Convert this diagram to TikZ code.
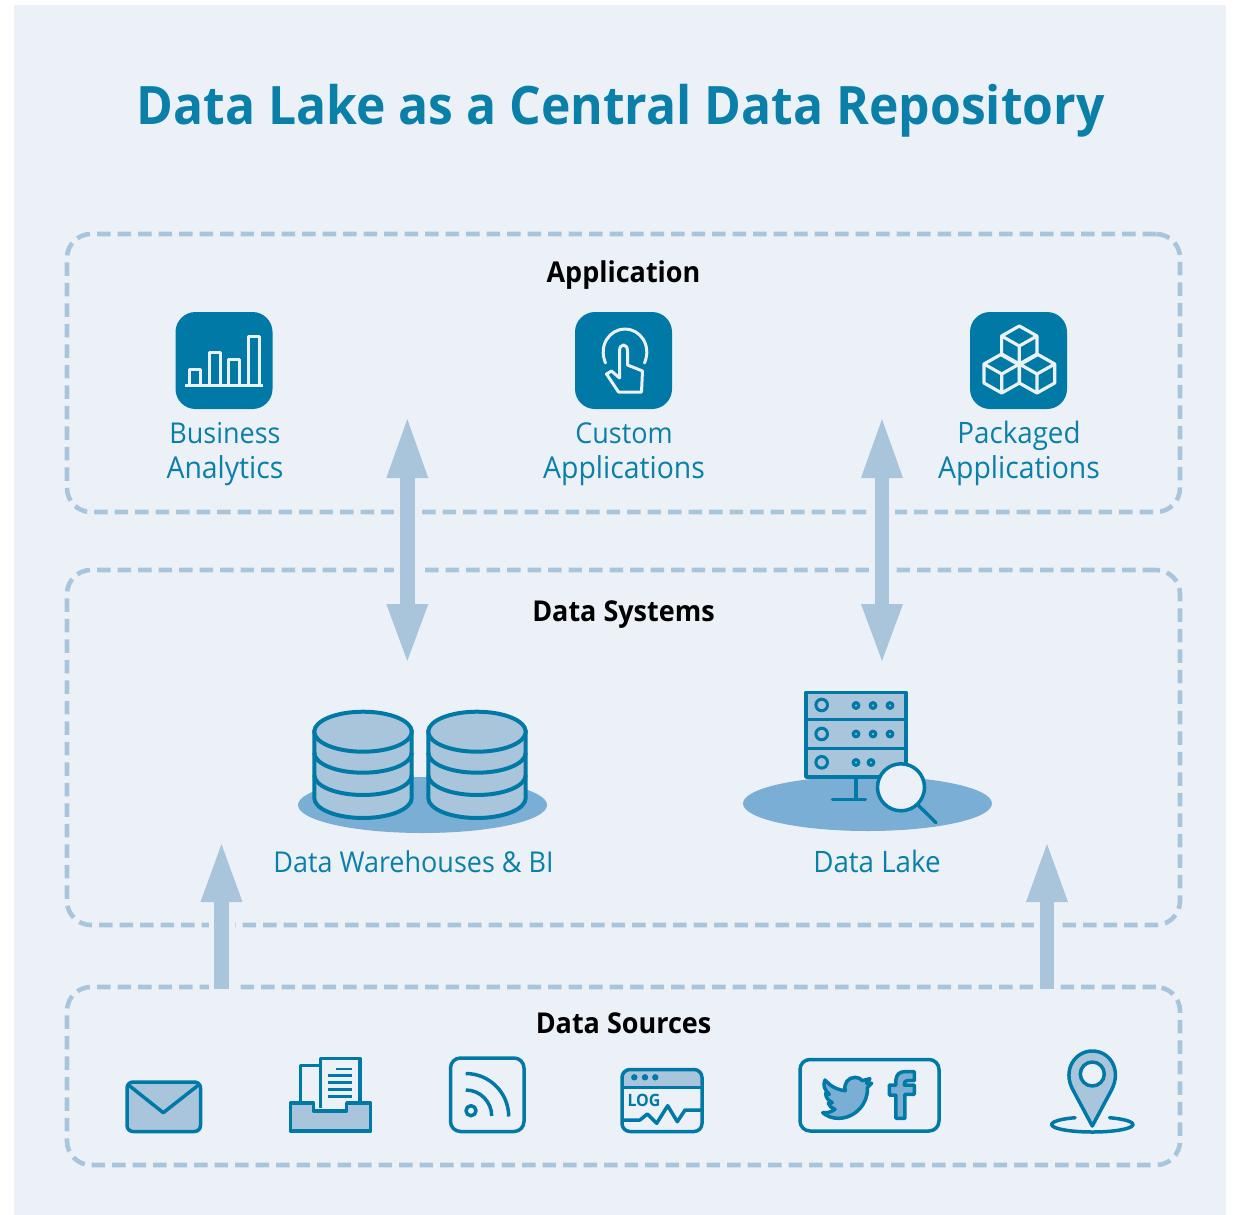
\documentclass[tikz,border=0pt]{standalone}
\usepackage{fontspec}
\setmainfont{Open Sans}[FakeStretch=0.94]
\usetikzlibrary{arrows.meta}
\definecolor{bgc}{HTML}{ECF1F8}
\definecolor{teal}{HTML}{0079A6}
\definecolor{txt}{HTML}{0A7FA8}
\definecolor{lite}{HTML}{A9C5DC}
\definecolor{mid}{HTML}{7AAED4}
\definecolor{wht}{HTML}{EAF1F7}
\newcommand{\cubeicon}[2]{%
  \draw[wht,line width=3.2pt,line join=round]
    (#1-17.7,#2-10) -- (#1,#2-20) -- (#1+17.7,#2-10) -- (#1+17.7,#2+9) -- (#1,#2+19) -- (#1-17.7,#2+9) -- cycle
    (#1-17.7,#2-10) -- (#1,#2) -- (#1+17.7,#2-10) (#1,#2) -- (#1,#2+19);}
\newcommand{\cylicon}[2]{%
  \draw[teal,line width=4pt,fill=lite] (#1-48.7,#2) -- (#1-48.7,#2+66.3) arc[start angle=180,delta angle=-180,x radius=48.7,y radius=20] -- (#1+48.7,#2) -- cycle;
  \draw[teal,line width=4pt,fill=lite] (#1,#2) ellipse[x radius=48.7,y radius=20];
  \draw[teal,line width=4pt] (#1-48.7,#2+21) arc[start angle=180,delta angle=-180,x radius=48.7,y radius=20];
  \draw[teal,line width=4pt] (#1-48.7,#2+43.3) arc[start angle=180,delta angle=-180,x radius=48.7,y radius=20];}
\newcommand{\appl}{{\fontsize{30.2}{35}\selectfont Applications}}
\tikzset{
  x=1pt,y=-1pt,
  groupbox/.style={draw=lite,line width=4.6pt,dash pattern=on 13.5pt off 7pt,rounded corners=24pt,inner sep=0pt,minimum width=1113pt},
  tile/.style={fill=teal,rounded corners=20pt,minimum width=97pt,minimum height=97pt,inner sep=0pt},
  caption/.style={text=txt,align=center,font=\fontsize{28.7}{35}\selectfont,inner sep=0pt},
  head/.style={text=black,anchor=base,font=\fontsize{28.7}{34}\selectfont\bfseries,inner sep=0pt},
  bigarrow/.style={draw=lite,line width=14.4pt},
  gapline/.style={draw=bgc,line width=26pt},
  ico/.style={draw=teal,line width=3.5pt,line join=round},
  icw/.style={draw=wht,line width=3pt,line join=round},
}
\begin{document}
\begin{tikzpicture}
\useasboundingbox (0,0) rectangle (1235,1215);
\fill[white] (0,0) rectangle (1235,1215);
\fill[bgc] (14,5) rectangle (1226,1215);

\node[text=txt,font=\fontsize{53}{60}\selectfont\bfseries,inner sep=0pt] (title) at (620.5,111) {Data Lake as a Central Data Repository};

% group frames
\node[groupbox,minimum height=278pt] (appbox) at (623.5,373) {};
\node[groupbox,minimum height=355pt] (sysbox) at (623.5,747.5) {};
\node[groupbox,minimum height=178pt] (srcbox) at (623.5,1076) {};

\node[head] (apphead) at (623.5,282) {Application};
\node[head] (syshead) at (623.5,621) {Data Systems};
\node[head] (srchead) at (623.5,1033) {Data Sources};

% arrows
\coordinate (a1t) at (407.3,415);
\coordinate (a1b) at (407.3,665);
\coordinate (a2t) at (882,415);
\coordinate (a2b) at (882,665);
\coordinate (a3b) at (221.5,989);
\coordinate (a3t) at (221.5,840);
\coordinate (a4b) at (1047,989);
\coordinate (a4t) at (1047,840);
\draw[gapline] (407.3,500) -- (407.3,582);
\draw[gapline] (882,500) -- (882,582);
\draw[gapline] (221.5,915) -- (221.5,997);
\draw[gapline] (1047,915) -- (1047,997);
\draw[bigarrow,{Triangle[length=63pt,width=37pt]}-{Triangle[length=61pt,width=37pt]}] (a1t) -- (a1b);
\draw[bigarrow,{Triangle[length=63pt,width=37pt]}-{Triangle[length=61pt,width=37pt]}] (a2t) -- (a2b);
\draw[bigarrow,-{Triangle[length=62pt,width=37pt]}] (a3b) -- (a3t);
\draw[bigarrow,-{Triangle[length=62pt,width=37pt]}] (a4b) -- (a4t);

% application tiles
\node[tile] (t1) at (224,360.5) {};
\node[tile] (t2) at (623.5,360.5) {};
\node[tile] (t3) at (1018.5,360.5) {};
\node[caption] (c1) at (225,454) {Business\\{\fontsize{30.2}{35}\selectfont Analytics}};
\node[caption] (c2) at (624,454) {Custom\\\appl};
\node[caption] (c3) at (1019,453) {{\fontsize{29.5}{35}\selectfont Packaged}\\\appl};

\draw[icw] (185,385) -- (263,385);
\draw[icw] (189,385) -- (189,369) -- (200.5,369) -- (200.5,385);
\draw[icw] (209,385) -- (209,352.5) -- (220,352.5) -- (220,385);
\draw[icw] (228.5,385) -- (228.5,359) -- (239.5,359) -- (239.5,385);
\draw[icw] (248.5,385) -- (248.5,336) -- (259,336) -- (259,385);

\draw[icw,line cap=round] (605.5,363) .. controls (598,345) and (610,329) .. (625,329) .. controls (640,329) and (652,345) .. (644.5,363);
\draw[icw] (619.5,378) -- (619.5,351) .. controls (619.5,343) and (627.5,343) .. (627.5,351) -- (627.5,365) -- (642.5,371) -- (641.5,392) -- (618.5,392) -- (606.5,374) -- (611.5,371) -- cycle;

\cubeicon{1019.3}{346}
\cubeicon{1001.7}{374}
\cubeicon{1037}{374}

% data systems
\fill[mid] (422.5,805) ellipse[x radius=124.5,y radius=28];
\cylicon{363}{731.7}
\cylicon{477}{731.7}
\node[caption] (c4) at (413.5,862) {Data Warehouses \& BI};

\fill[mid] (867.5,803.5) ellipse[x radius=124.5,y radius=27.5];
\draw[ico,fill=lite] (806,692.5) rectangle (906,777);
\draw[ico] (806,719.5) -- (906,719.5) (806,748.3) -- (906,748.3);
\foreach \yy in {705,734,762.3}{\draw[ico,line width=3pt] (821.7,\yy) circle[radius=5.8];}
\foreach \xx in {856,873,890}{\foreach \yy in {705.5,734}{\draw[ico,line width=3.2pt,fill=lite] (\xx,\yy) circle[radius=2.8];}}
\foreach \xx in {856,871}{\draw[ico,line width=3.2pt,fill=lite] (\xx,762.5) circle[radius=2.8];}
\draw[ico,line width=3.4pt,line cap=round] (856,778) -- (856,799.5) (832.5,799.5) -- (865.5,799.5);
\draw[ico,line width=3.4pt,line cap=round] (917,804) -- (936,822.7);
\draw[ico,fill=bgc] (901,787.3) circle[radius=23.5];
\node[caption] (c5) at (877,861) {{\fontsize{29.5}{35}\selectfont Data Lake}};

% data sources
\draw[ico,fill=lite,rounded corners=6pt] (127,1082) rectangle (200.5,1131.5);
\draw[ico] (128.5,1085) -- (163.3,1112.7) -- (198.5,1085);

\draw[ico,fill=bgc] (300.5,1106) -- (300.5,1065.5) -- (321,1065.5) -- (321,1106);
\draw[ico,fill=bgc] (320.7,1108) -- (320.7,1058.5) -- (360,1058.5) -- (360,1108);
\draw[teal,line width=2.8pt] (335.5,1069) -- (352.3,1069) (328.3,1075.7) -- (352.3,1075.7) (328.3,1082.7) -- (352.3,1082.7) (328.3,1089.5) -- (352.3,1089.5) (328.3,1096.7) -- (352.3,1096.7);
\draw[ico,fill=lite,miter limit=4] (290.5,1103) -- (313.5,1103) -- (313.5,1111) -- (346.7,1111) -- (346.7,1103) -- (370.5,1103) -- (370.5,1131) -- (290.5,1131) -- cycle;

\draw[ico,rounded corners=10pt] (450.5,1058) rectangle (524,1131.5);
\draw[ico] (471,1110.7) circle[radius=5];
\draw[ico] (465.7,1090) arc[start angle=-90,end angle=0,radius=26];
\draw[ico] (465.7,1073.5) arc[start angle=-90,end angle=0,radius=43];

\fill[lite,rounded corners=8pt] (622,1069.5) -- (702,1069.5) -- (702,1088) -- (622,1088) -- cycle;
\draw[ico,rounded corners=8pt] (622,1069.5) rectangle (702,1131.5);
\draw[ico] (622,1087.7) -- (702,1087.7);
\fill[teal] (634.3,1077.3) circle[radius=3.2] (645,1077.3) circle[radius=3.2] (655.3,1077.3) circle[radius=3.2];
\node[text=teal,font=\fontsize{17}{17}\selectfont\bfseries,inner sep=0pt] (logt) at (644,1100.5) {LOG};
\draw[ico] (622,1120) -- (640,1120) -- (647.3,1114) -- (656.7,1123.3) -- (667.7,1105.7) -- (677.3,1121.7) -- (685,1110) -- (702,1110);

\draw[ico,rounded corners=10pt] (800,1059.5) rectangle (939,1131);
\begin{scope}[shift={(790,1040)},x=0.3333pt,y=-0.3333pt]
  \draw[ico,fill=mid] (318,235) -- (318,165) -- (298,165) -- (298,135) -- (318,135) -- (318,118) .. controls (320,102) and (330,95) .. (345,95) -- (373,95) -- (373,122) -- (352,122) .. controls (345,122) and (343,126) .. (343,135) -- (373,135) -- (373,163) -- (345,163) -- (345,235) -- cycle;
  \draw[ico,fill=mid] (245,130) -- (232,143) .. controls (236,190) and (195,235) .. (145,235) .. controls (125,235) and (110,228) .. (98,218) .. controls (112,220) and (125,215) .. (135,208) .. controls (125,205) and (118,198) .. (115,190) -- (127,188) .. controls (115,182) and (107,172) .. (107,160) -- (118,163) .. controls (103,150) and (98,135) .. (105,120) .. controls (120,138) and (142,150) .. (166,152) .. controls (160,130) and (175,112) .. (195,112) .. controls (205,112) and (212,116) .. (217,122) -- (240,116) -- (230,130) -- cycle;
\end{scope}

\draw[ico,line cap=round] (1092.3,1124.5) ++(245:40.7 and 7.5) arc[start angle=245,end angle=-65,x radius=40.7,y radius=7.5];
\draw[ico,fill=lite] (1092.3,1126) -- (1073,1090) .. controls (1062,1070) and (1075,1051) .. (1092.3,1051) .. controls (1110,1051) and (1122,1070) .. (1111.5,1090) -- cycle;
\draw[ico,fill=bgc] (1092.3,1074) circle[radius=12];
\end{tikzpicture}
\end{document}
